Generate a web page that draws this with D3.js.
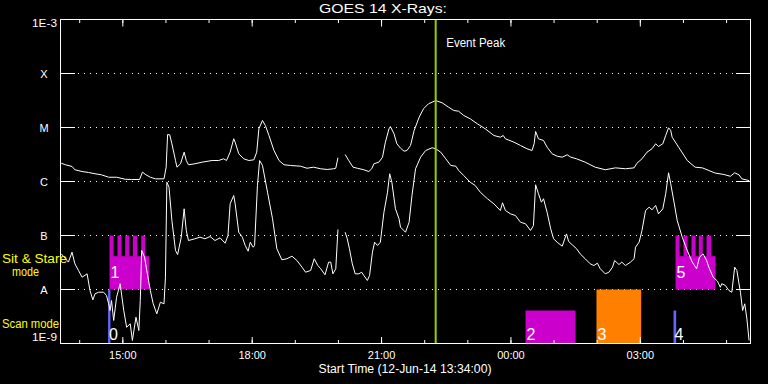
<!DOCTYPE html>
<html><head><meta charset="utf-8">
<script src="https://cdn.jsdelivr.net/npm/d3@7"></script>
<style>html,body{margin:0;padding:0;background:#000;overflow:hidden}</style>
</head><body><svg id="c" width="768" height="384"></svg>
<script>
// ---------------- data ----------------
const chartTitle = "GOES 14 X-Rays:";
const axisTitle = "Start Time (12-Jun-14 13:34:00)";
const startUTC = [2014, 5, 12, 13, 34];   // 12-Jun-2014 13:34 UT
const spanMinutes = 960;                  // 16 hours shown

// long channel (1-8 A), minutes after start / flux W m^-2 (null = data gap)
const longT = [1,7,16,20,30,39,48,57,67,78,
  90,99,110,114,119,125,132,144,147,149,
  152,155,160,162,167,172,175,178,187,197,
  211,220,227,231,236,241,243,248,255,262,
  269,273,276,281,285,290,297,304,311,320,
  334,343,352,362,371,380,383,386,390,396,
  401,407,413,422,429,433,436,443,448,452,
  457,459,464,468,473,478,482,487,492,499,
  505,512,522,531,540,547,554,561,570,580,
  591,603,612,616,619,631,640,649,656,659,
  661,665,672,677,684,691,698,705,710,718,
  730,744,758,772,786,798,802,809,816,823,
  828,832,838,842,846,849,851,860,872,883,
  893,902,911,923,932,938,944,948,958];
const longFlux = [2.18e-6,2.04e-6,1.90e-6,1.65e-6,1.53e-6,1.47e-6,1.39e-6,1.33e-6,1.20e-6,1.20e-6,
  1.10e-6,1.09e-6,1.09e-6,1.49e-6,1.33e-6,1.20e-6,1.12e-6,1.12e-6,1.84e-6,7.41e-6,
  7.32e-6,4.99e-6,2.45e-6,1.84e-6,2.13e-6,3.49e-6,2.45e-6,2.04e-6,2.13e-6,2.28e-6,
  2.45e-6,2.45e-6,2.63e-6,2.45e-6,3.49e-6,6.18e-6,5.34e-6,3.26e-6,2.63e-6,2.45e-6,
  2.52e-6,3.49e-6,9.46e-6,1.35e-5,1.09e-5,7.11e-6,3.75e-6,2.45e-6,2.04e-6,1.98e-6,
  1.92e-6,1.76e-6,1.84e-6,1.72e-6,1.67e-6,1.72e-6,1.76e-6,2.75e-6,null,3.16e-6,
  2.45e-6,1.84e-6,1.76e-6,1.65e-6,1.53e-6,1.72e-6,2.13e-6,2.28e-6,2.82e-6,5.34e-6,
  9.46e-6,1.04e-5,7.64e-6,4.99e-6,4.14e-6,3.64e-6,3.75e-6,4.64e-6,8.80e-6,1.55e-5,
  2.22e-5,2.75e-5,3.16e-5,2.86e-5,2.38e-5,2.07e-5,2.00e-5,1.67e-5,1.45e-5,1.17e-5,
  9.46e-6,7.11e-6,6.61e-6,7.11e-6,6.18e-6,5.34e-6,4.64e-6,4.04e-6,3.75e-6,4.99e-6,
  8.43e-6,6.18e-6,5.74e-6,4.32e-6,3.26e-6,2.94e-6,2.82e-6,3.12e-6,2.82e-6,2.63e-6,
  2.28e-6,1.84e-6,1.65e-6,1.79e-6,1.72e-6,1.79e-6,2.18e-6,2.63e-6,3.49e-6,4.04e-6,
  4.99e-6,4.45e-6,4.99e-6,7.11e-6,9.87e-6,8.80e-6,6.61e-6,4.32e-6,2.45e-6,1.84e-6,
  1.79e-6,1.60e-6,1.43e-6,1.35e-6,1.25e-6,1.45e-6,1.33e-6,1.12e-6,1.04e-6];

// short channel (0.5-4 A)
const shortT = [1,7,11,16,20,25,30,37,41,45,
  48,53,60,64,67,69,71,74,78,83,
  88,92,97,100,105,109,111,113,117,120,
  125,129,134,139,144,146,148,151,155,160,
  163,168,172,175,178,187,194,201,208,215,
  222,229,233,236,241,243,248,253,257,261,
  264,268,270,274,277,281,288,295,301,308,
  315,322,329,336,341,348,353,358,362,368,
  373,376,379,383,386,390,396,399,402,406,
  410,415,419,422,427,430,434,437,441,445,
  450,455,458,461,466,471,473,480,485,489,
  494,501,508,517,522,529,536,543,550,554,
  561,570,577,584,594,603,612,615,619,626,
  633,640,647,654,658,661,665,669,672,677,
  682,686,691,698,704,707,712,718,723,730,
  737,742,747,751,758,763,768,771,777,781,
  786,793,798,800,805,809,814,819,823,828,
  832,838,842,846,849,854,858,865,872,879,
  885,889,894,899,902,908,914,918,920,925,
  930,934,938,941,946,949,952,955,958];
const shortFlux = [4.58e-8,3.71e-8,3.21e-8,4.91e-8,2.99e-8,2.25e-8,1.69e-8,1.95e-8,9.57e-9,6.44e-9,
  8.32e-9,8.91e-9,8.91e-9,7.74e-9,5.43e-9,4.08e-9,6.25e-9,2.67e-9,7.20e-9,1.28e-8,
  4.08e-9,2.00e-9,2.32e-9,1.14e-9,3.07e-9,1.74e-9,6.25e-9,5.27e-8,3.96e-8,2.25e-8,
  9.57e-9,5.43e-9,3.55e-9,5.82e-9,5.43e-9,1.69e-8,9.70e-7,7.83e-7,1.90e-7,5.27e-8,
  4.45e-8,9.31e-8,3.12e-7,1.24e-7,8.07e-8,8.69e-8,9.31e-8,8.69e-8,9.57e-8,8.07e-8,
  9.06e-8,7.20e-8,1.00e-7,3.86e-7,5.51e-7,3.86e-7,1.15e-7,9.31e-8,6.53e-8,5.12e-8,
  7.52e-8,6.07e-8,6.53e-8,8.43e-7,2.45e-6,1.98e-6,6.34e-7,2.04e-7,5.68e-8,3.55e-8,
  3.71e-8,4.14e-8,3.44e-8,2.59e-8,2.09e-8,2.25e-8,3.71e-8,2.78e-8,2.42e-8,1.87e-8,
  3.21e-8,3.21e-8,1.95e-8,2.42e-8,1.29e-7,null,1.15e-7,8.69e-8,5.68e-8,2.99e-8,
  1.95e-8,1.95e-8,2.09e-8,1.82e-8,1.47e-8,1.82e-8,4.91e-8,7.52e-8,6.53e-8,7.52e-8,
  2.70e-7,6.34e-7,1.39e-6,9.70e-7,3.12e-7,2.04e-7,1.43e-7,1.15e-7,1.76e-7,5.51e-7,
  1.72e-6,2.82e-6,3.75e-6,4.21e-6,4.04e-6,3.49e-6,2.63e-6,1.98e-6,1.92e-6,1.60e-6,
  1.29e-6,9.70e-7,8.43e-7,6.34e-7,4.79e-7,3.86e-7,2.90e-7,4.04e-7,2.90e-7,2.52e-7,
  2.34e-7,1.76e-7,1.65e-7,1.24e-7,1.53e-7,8.69e-7,5.92e-7,4.14e-7,4.79e-7,2.70e-7,
  1.33e-7,8.69e-8,7.52e-8,6.34e-8,1.07e-7,7.74e-8,6.73e-8,5.68e-8,4.58e-8,3.71e-8,
  2.99e-8,2.78e-8,3.07e-8,2.42e-8,1.95e-8,2.09e-8,2.59e-8,3.44e-8,2.90e-8,3.21e-8,
  2.78e-8,3.21e-8,3.71e-8,6.07e-8,7.52e-8,1.24e-7,2.90e-7,3.34e-7,2.99e-7,3.60e-7,
  2.52e-7,3.12e-7,5.92e-7,1.45e-6,9.06e-7,3.86e-7,1.90e-7,9.31e-8,5.27e-8,3.21e-8,
  2.42e-8,3.96e-8,4.58e-8,3.44e-8,2.59e-8,1.69e-8,1.43e-8,1.10e-8,1.28e-8,1.19e-8,
  9.57e-9,8.91e-9,2.59e-8,2.25e-8,8.91e-9,4.08e-9,5.43e-9,2.86e-9,1.14e-9];

// y axis
const yTickValues = [1e-3, 1e-4, 1e-5, 1e-6, 1e-7, 1e-8, 1e-9];
const yTickLabels = ["1E-3", "X", "M", "C", "B", "A", "1E-9"];
const gridValues = [1e-4, 1e-5, 1e-6, 1e-7, 1e-8];

// event peak (minutes after start)
const eventPeakT = 522;
const eventPeakLabel = "Event Peak";

// Sit & Stare observations: base block and comb teeth (minutes after start)
const stareIds   = ["1", "5"];
const stareStart = [68.2, 855.7];
const stareEnd   = [123.4, 911.3];
const stareLow   = 1e-8;
const stareMid   = 4.14e-8;
const stareHigh  = 1e-7;
const teethStart = [68.2, 79.3, 90.0, 100.6, 112.3, 855.7, 866.8, 877.9, 888.0, 898.8];
const teethEnd   = [73.7, 84.9, 95.6, 106.7, 117.8, 861.2, 872.4, 883.5, 893.6, 905.3];

// Scan mode observations
const scanIds   = ["0", "2", "3", "4"];
const scanStart = [66.2, 647.0, 745.7, 852.9];
const scanEnd   = [69.5, 716.5, 807.9, 856.6];
const scanTop   = [1e-8, 4.08e-9, 1e-8, 4.08e-9];
const scanKind  = ["scanA", "stare", "scanB", "scanA"];

const sideLabels = ["Sit & Stare", "mode", "Scan mode"];

// ---------------- drawing ----------------
const colors = { stare: "#cc00cc", scanA: "#6464ff", scanB: "#ff8000", peak: "#99cc00", side: "#ffff00" };
const FONT = "'Liberation Sans', Arial, sans-serif";

const svg = d3.select("#c");
svg.append("rect").attr("width", 768).attr("height", 384).attr("fill", "#000");

const t0 = new Date(Date.UTC(...startUTC));
const toDate = m => new Date(t0.getTime() + m * 60000);
const x = d3.scaleUtc().domain([t0, toDate(spanMinutes)]).range([60.5, 750.5]);
const y = d3.scaleLog().domain([1e-9, 1e-3]).range([343.5, 19.5]);

// grid lines & y ticks
const grid = svg.append("g");
gridValues.forEach(v => {
  const yy = Math.round(y(v) - 0.5) + 0.5;
  grid.append("line").attr("x1", 60).attr("x2", 75).attr("y1", yy).attr("y2", yy).attr("stroke", "#fff");
  grid.append("line").attr("x1", 736).attr("x2", 751).attr("y1", yy).attr("y2", yy).attr("stroke", "#fff");
  grid.append("line").attr("x1", 78).attr("x2", 734).attr("y1", yy).attr("y2", yy)
    .attr("stroke", "#fff").attr("stroke-dasharray", "1,5");
});

// observation blocks
const obs = svg.append("g");
stareIds.forEach((id, i) => {
  obs.append("rect").attr("x", x(toDate(stareStart[i]))).attr("width", x(toDate(stareEnd[i])) - x(toDate(stareStart[i])))
    .attr("y", y(stareMid)).attr("height", y(stareLow) - y(stareMid)).attr("fill", colors.stare);
});
teethStart.forEach((s, i) => {
  obs.append("rect").attr("x", x(toDate(s))).attr("width", x(toDate(teethEnd[i])) - x(toDate(s)))
    .attr("y", y(stareHigh)).attr("height", y(stareMid) - y(stareHigh) + 0.5).attr("fill", colors.stare);
});
scanIds.forEach((id, i) => {
  obs.append("rect").attr("x", x(toDate(scanStart[i]))).attr("width", x(toDate(scanEnd[i])) - x(toDate(scanStart[i])))
    .attr("y", y(scanTop[i])).attr("height", y(1e-9) - y(scanTop[i])).attr("fill", colors[scanKind[i]]);
});

// curves
const line = d3.line().defined(d => d[1] != null).x(d => x(toDate(d[0]))).y(d => y(d[1]));
[[longT, longFlux], [shortT, shortFlux]].forEach(([T, F]) => {
  svg.append("path").datum(T.map((t, i) => [t, F[i]])).attr("d", line)
    .attr("fill", "none").attr("stroke", "#fff").attr("stroke-width", 1);
});

// block labels
stareIds.forEach((id, i) => {
  svg.append("text").attr("x", x(toDate(stareStart[i])) + 1).attr("y", 278).text(id)
    .attr("fill", "#fff").attr("font-family", FONT).attr("font-size", 16);
});
scanIds.forEach((id, i) => {
  svg.append("text").attr("x", x(toDate(scanStart[i])) + 1).attr("y", 339.5).text(id)
    .attr("fill", "#fff").attr("font-family", FONT).attr("font-size", 16);
});

// event peak
const px = x(toDate(eventPeakT));
svg.append("line").attr("x1", px).attr("x2", px).attr("y1", 19).attr("y2", 344)
  .attr("stroke", colors.peak).attr("stroke-width", 2);
svg.append("text").attr("x", px + 10.5).attr("y", 47).text(eventPeakLabel)
  .attr("fill", "#fff").attr("font-family", FONT).attr("font-size", 12)
  .attr("textLength", 59).attr("lengthAdjust", "spacingAndGlyphs");

// axes
function styleAxis(g) {
  g.select(".domain").remove();
  g.selectAll("line").attr("stroke", "#fff");
  g.selectAll("text").attr("fill", "#fff").attr("font-family", FONT).attr("font-size", 11);
}
svg.append("g").attr("transform", "translate(0,343.5)")
  .call(d3.axisBottom(x).ticks(d3.utcHour.every(1)).tickSize(-3.5).tickFormat("")).call(styleAxis);
const bottomMajor = svg.append("g").attr("transform", "translate(0,343.5)")
  .call(d3.axisBottom(x).ticks(d3.utcHour.every(3)).tickSize(-6.5).tickPadding(0).tickFormat(d3.utcFormat("%H:%M"))).call(styleAxis);
bottomMajor.selectAll("text").attr("y", 15).attr("dy", 0);
svg.append("g").attr("transform", "translate(0,19.5)")
  .call(d3.axisTop(x).ticks(d3.utcHour.every(1)).tickSize(-3.5).tickFormat("")).call(styleAxis);
svg.append("g").attr("transform", "translate(0,19.5)")
  .call(d3.axisTop(x).ticks(d3.utcHour.every(3)).tickSize(-7).tickFormat("")).call(styleAxis);

// frame
svg.append("rect").attr("x", 60.5).attr("y", 19.5).attr("width", 690).attr("height", 324)
  .attr("fill", "none").attr("stroke", "#fff");

// y labels
yTickValues.forEach((v, i) => {
  const lab = yTickLabels[i];
  const isEnd = lab.length > 1;
  let yy = y(v) + 4;
  if (i === 0) yy = y(v) + 7.5;
  if (i === yTickValues.length - 1) yy = y(v) - 3;
  const t = svg.append("text").attr("x", isEnd ? 57 : 44).attr("y", yy)
    .attr("text-anchor", isEnd ? "end" : "middle").text(lab)
    .attr("fill", "#fff").attr("font-family", FONT).attr("font-size", 11);
  if (isEnd) t.attr("textLength", 25).attr("lengthAdjust", "spacingAndGlyphs");
});

// titles
svg.append("text").attr("x", 383).attr("y", 13).attr("text-anchor", "middle").text(chartTitle)
  .attr("fill", "#fff").attr("font-family", FONT).attr("font-size", 13)
  .attr("textLength", 128).attr("lengthAdjust", "spacingAndGlyphs");
svg.append("text").attr("x", 405).attr("y", 373).attr("text-anchor", "middle").text(axisTitle)
  .attr("fill", "#fff").attr("font-family", FONT).attr("font-size", 12)
  .attr("textLength", 173).attr("lengthAdjust", "spacingAndGlyphs");

// side labels
svg.append("text").attr("x", 2).attr("y", 263).text(sideLabels[0])
  .attr("fill", colors.side).attr("font-family", FONT).attr("font-size", 12)
  .attr("textLength", 65).attr("lengthAdjust", "spacingAndGlyphs");
svg.append("text").attr("x", 12).attr("y", 275.5).text(sideLabels[1])
  .attr("fill", colors.side).attr("font-family", FONT).attr("font-size", 12)
  .attr("textLength", 27).attr("lengthAdjust", "spacingAndGlyphs");
svg.append("text").attr("x", 2).attr("y", 328).text(sideLabels[2])
  .attr("fill", colors.side).attr("font-family", FONT).attr("font-size", 12)
  .attr("textLength", 57).attr("lengthAdjust", "spacingAndGlyphs");
</script></body></html>
